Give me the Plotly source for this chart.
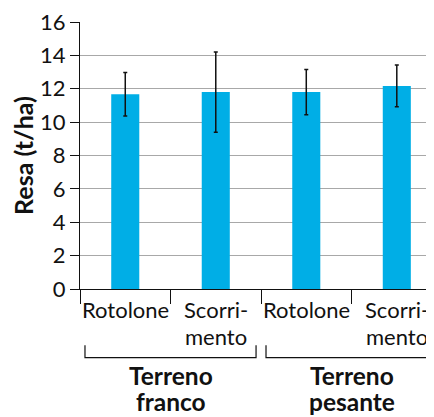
import plotly.graph_objects as go

categories = [["Rotolone"], ["Scorri-", "mento"], ["Rotolone"], ["Scorri-", "mento"]]
groups = [["Terreno", "franco"], ["Terreno", "pesante"]]
values = [11.67, 11.8, 11.8, 12.17]
errors = [1.3, 2.4, 1.35, 1.25]
y_ticks = [0, 2, 4, 6, 8, 10, 12, 14, 16]

FONT = "Lato"
INK = "#111111"
x_pos = list(range(len(categories)))

# page offset (body margin) and plot geometry in page pixels
OFF = 8
PLOT_BOTTOM = 289.3
PLOT_H = 267.3


def py(page_px):
    """page pixel row -> paper y"""
    return (PLOT_BOTTOM - page_px) / PLOT_H


fig = go.Figure()
fig.add_trace(go.Bar(
    x=x_pos, y=values, width=0.31,
    marker=dict(color="#00aee6", line=dict(width=0)),
    error_y=dict(type="data", array=errors, visible=True,
                 color=INK, thickness=1.5, width=2),
    hoverinfo="skip",
))

# category labels (one annotation per line)
cat_rows = [310, 337]
for xi, lines in zip(x_pos, categories):
    for li, txt in enumerate(lines):
        fig.add_annotation(x=xi, xref="x", y=py(cat_rows[li]), yref="paper",
                           yanchor="middle", text=txt, showarrow=False,
                           font=dict(family=FONT, size=22, color=INK))

# group labels and brackets
gap = 0.055
grp_rows = [376, 402]
for gi, lines in enumerate(groups):
    x0 = gi * 2 - 0.5
    x1 = gi * 2 + 1.5
    center = gi * 2 + 0.5
    for li, txt in enumerate(lines):
        fig.add_annotation(x=center, xref="x", y=py(grp_rows[li]), yref="paper",
                           yanchor="middle", text="<b>" + txt + "</b>",
                           showarrow=False,
                           font=dict(family=FONT, size=24.5, color=INK))
    ya, yb = py(345.7), py(358)
    fig.add_shape(type="path", xref="x", yref="paper",
                  path=f"M {x0+gap},{ya} L {x0+gap},{yb} L {x1-gap},{yb} L {x1-gap},{ya}",
                  line=dict(color=INK, width=1.2))

fig.update_layout(
    width=434 - OFF, height=417 - OFF,
    margin=dict(l=80 - OFF, r=0, t=22 - OFF, b=128),
    plot_bgcolor="white", paper_bgcolor="white",
    showlegend=False,
    xaxis=dict(range=[-0.5, 3.411], tickvals=[-0.5, 0.5, 1.5, 2.5],
               showticklabels=False, ticks="outside", ticklen=14,
               tickcolor=INK, tickwidth=1,
               showgrid=False, zeroline=False,
               showline=True, linecolor=INK, linewidth=1.2),
    yaxis=dict(range=[0, 16.001], tickvals=y_ticks, ticks="outside", ticklen=9,
               tickcolor=INK, tickwidth=1, ticklabeloverflow="allow",
               tickfont=dict(family=FONT, size=22, color=INK),
               showgrid=True, gridcolor="#a8a8a8", gridwidth=1,
               zeroline=False, showline=True, linecolor=INK, linewidth=1.2,
               title=dict(text="<b>Resa (t/ha)</b>", standoff=4,
                          font=dict(family=FONT, size=25, color=INK))),
)

fig.write_html("out.html")
